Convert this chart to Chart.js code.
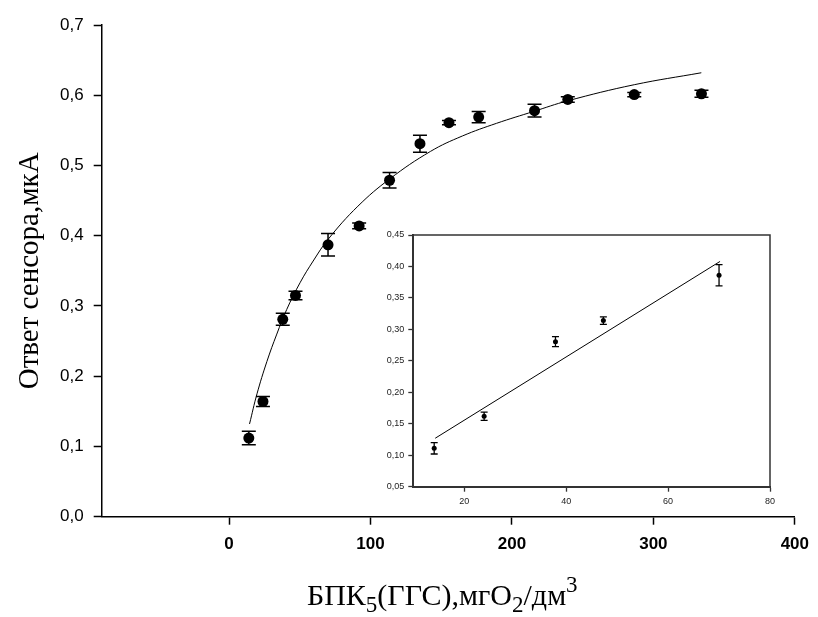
<!DOCTYPE html>
<html>
<head>
<meta charset="utf-8">
<title>Ответ сенсора</title>
<script src="https://cdn.jsdelivr.net/npm/chart.js@4.4.0/dist/chart.umd.min.js"></script>
<style>
    body { margin: 0; background: #fff; }
    #wrap { position: relative; width: 818px; height: 617px; }
    #mainChart { position: absolute; left: 0; top: 0; }
    #insetChart { position: absolute; left: 370px; top: 225px; }
</style>
</head>
<body>
<div id="wrap">
    <canvas id="mainChart" width="818" height="617"></canvas>
    <canvas id="insetChart" width="420" height="290"></canvas>
</div>
<script>
// main plot data (BOD5 vs sensor response)
let bodValues = [14, 24, 38, 47, 70, 92, 113.5, 135, 155.5, 176.5, 216, 239.5, 286.5, 334];
let responseValues = [0.112, 0.164, 0.281, 0.315, 0.387, 0.414, 0.479, 0.531, 0.561, 0.569, 0.578, 0.594, 0.601, 0.602];
let responseErrors = [0.0095, 0.007, 0.0085, 0.006, 0.016, 0.004, 0.011, 0.012, 0.003, 0.008, 0.009, 0.004, 0.003, 0.005];

// fitted curve
let fitX = [14.5, 19.8, 26.8, 33.8, 40.8, 50.2, 59.5, 70.1, 91.1, 113.7, 142.4, 165, 189.1, 215.5, 239.3, 286.5, 333.9];
let fitY = [0.132, 0.175, 0.221, 0.260, 0.295, 0.333, 0.364, 0.395, 0.442, 0.481, 0.520, 0.542, 0.560, 0.577, 0.592, 0.615, 0.632];

// inset (linear part)
let insetX = [14.1, 23.9, 37.9, 47.3, 70.0];
let insetY = [0.111, 0.162, 0.2805, 0.314, 0.386];
let insetErrors = [0.009, 0.0065, 0.008, 0.006, 0.017];
let insetLineX = [14.3, 70.2];
let insetLineY = [0.127, 0.408];

let mainXTicks = [0, 100, 200, 300, 400];
let mainYTicks = [0, 0.1, 0.2, 0.3, 0.4, 0.5, 0.6, 0.7];
let insetXTicks = [20, 40, 60, 80];
let insetYTicks = [0.05, 0.10, 0.15, 0.20, 0.25, 0.30, 0.35, 0.40, 0.45];

function toPoints(xs, ys) {
    let pts = [];
    for (let i = 0; i < xs.length; i++) {
        pts.push({ x: xs[i], y: ys[i] });
    }
    return pts;
}

function comma(v, digits) {
    return v.toFixed(digits).replace('.', ',');
}

// vertical error bars with caps, drawn through the chart scales
const errorBars = {
    id: 'errorBars',
    afterDatasetsDraw(chart, args, opts) {
        const ctx = chart.ctx;
        const xs = chart.scales.x;
        const ys = chart.scales.y;
        ctx.save();
        ctx.strokeStyle = '#000';
        ctx.lineWidth = opts.lineWidth;
        for (let i = 0; i < opts.x.length; i++) {
            let px = xs.getPixelForValue(opts.x[i]);
            let top = ys.getPixelForValue(opts.y[i] + opts.err[i]);
            let bot = ys.getPixelForValue(opts.y[i] - opts.err[i]);
            ctx.beginPath();
            ctx.moveTo(px, top);
            ctx.lineTo(px, bot);
            ctx.moveTo(px - opts.cap, top);
            ctx.lineTo(px + opts.cap, top);
            ctx.moveTo(px - opts.cap, bot);
            ctx.lineTo(px + opts.cap, bot);
            ctx.stroke();
        }
        ctx.restore();
    }
};

// axis titles (x title needs sub/superscripts)
const axisTitles = {
    id: 'axisTitles',
    afterDraw(chart) {
        const ctx = chart.ctx;
        const area = chart.chartArea;
        ctx.save();
        ctx.fillStyle = '#000';
        ctx.textBaseline = 'alphabetic';

        // y title
        ctx.save();
        ctx.translate(38, (area.top + area.bottom) / 2);
        ctx.rotate(-Math.PI / 2);
        ctx.font = '29px "Liberation Serif", "Times New Roman", serif';
        ctx.textAlign = 'center';
        ctx.fillText('Ответ сенсора,мкА', 0, 0);
        ctx.restore();

        // x title
        const big = '30px "Liberation Serif", "Times New Roman", serif';
        const small = '23px "Liberation Serif", "Times New Roman", serif';
        const parts = [
            { t: 'БПК', f: big, dy: 0 },
            { t: '5', f: small, dy: 7 },
            { t: '(ГГС),мгО', f: big, dy: 0 },
            { t: '2', f: small, dy: 7 },
            { t: '/дм', f: big, dy: 0 },
            { t: '3', f: small, dy: -13 }
        ];
        let total = 0;
        parts.forEach(p => { ctx.font = p.f; p.w = ctx.measureText(p.t).width; total += p.w; });
        let x = (area.left + area.right) / 2 - total / 2 - 6;
        let base = 605;
        ctx.textAlign = 'left';
        parts.forEach(p => {
            ctx.font = p.f;
            ctx.fillText(p.t, x, base + p.dy);
            x += p.w;
        });
        ctx.restore();
    }
};

// frame around the inset plot (top and right sides)
const insetFrame = {
    id: 'insetFrame',
    afterDraw(chart) {
        const ctx = chart.ctx;
        const a = chart.chartArea;
        ctx.save();
        ctx.strokeStyle = '#333';
        ctx.lineWidth = 1.5;
        ctx.beginPath();
        ctx.moveTo(a.left, a.top);
        ctx.lineTo(a.right, a.top);
        ctx.lineTo(a.right, a.bottom);
        ctx.stroke();
        ctx.restore();
    }
};

function keepTicks(list) {
    return function (scale) {
        scale.ticks = list.map(v => ({ value: v }));
    };
}

window.addEventListener('load', function () {
    Chart.defaults.font.family = '"Liberation Sans", Arial, sans-serif';
    Chart.defaults.color = '#000';

    const mainCtx = document.getElementById('mainChart').getContext('2d');
    new Chart(mainCtx, {
        type: 'scatter',
        data: {
            datasets: [{
                data: toPoints(fitX, fitY),
                showLine: true,
                borderColor: '#000',
                borderWidth: 1,
                pointRadius: 0,
                tension: 0.4
            }, {
                data: toPoints(bodValues, responseValues),
                backgroundColor: '#000',
                borderColor: '#000',
                pointRadius: 5.5,
                pointBorderWidth: 0
            }]
        },
        options: {
            responsive: false,
            animation: false,
            layout: { padding: { top: 25, right: 17, left: 0, bottom: 0 } },
            plugins: {
                legend: { display: false },
                tooltip: { enabled: false },
                errorBars: { x: bodValues, y: responseValues, err: responseErrors, cap: 7, lineWidth: 1.5 }
            },
            scales: {
                x: {
                    type: 'linear',
                    min: -90,
                    max: 400,
                    afterBuildTicks: keepTicks(mainXTicks),
                    afterFit: function (scale) { scale.height = 100.3; },
                    grid: { drawOnChartArea: false, drawTicks: true, tickLength: 8, tickColor: '#000', tickWidth: 1.5 },
                    border: { display: true, color: '#000', width: 1.5 },
                    ticks: {
                        padding: 9,
                        maxRotation: 0,
                        font: { size: 17, weight: 'bold' },
                        callback: v => String(v)
                    }
                },
                y: {
                    min: 0,
                    max: 0.7,
                    afterBuildTicks: keepTicks(mainYTicks),
                    afterFit: function (scale) { scale.width = 101.7; },
                    grid: { drawOnChartArea: false, drawTicks: true, tickLength: 8, tickColor: '#000', tickWidth: 1.5 },
                    border: { display: true, color: '#000', width: 1.5 },
                    ticks: {
                        padding: 10,
                        font: { size: 17 },
                        callback: v => comma(v, 1)
                    }
                }
            }
        },
        plugins: [errorBars, axisTitles]
    });

    const insetCtx = document.getElementById('insetChart').getContext('2d');
    new Chart(insetCtx, {
        type: 'scatter',
        data: {
            datasets: [{
                data: toPoints(insetLineX, insetLineY),
                showLine: true,
                borderColor: '#000',
                borderWidth: 1,
                pointRadius: 0
            }, {
                data: toPoints(insetX, insetY),
                backgroundColor: '#000',
                pointRadius: 2.5,
                pointBorderWidth: 0
            }]
        },
        options: {
            responsive: false,
            animation: false,
            layout: { padding: { top: 10, right: 20, left: 0, bottom: 0 } },
            plugins: {
                legend: { display: false },
                tooltip: { enabled: false },
                errorBars: { x: insetX, y: insetY, err: insetErrors, cap: 3.5, lineWidth: 1.3 }
            },
            scales: {
                x: {
                    type: 'linear',
                    min: 10,
                    max: 80,
                    afterBuildTicks: keepTicks(insetXTicks),
                    afterFit: function (scale) { scale.height = 28.3; },
                    grid: { drawOnChartArea: false, drawTicks: true, tickLength: 5, tickColor: '#333', tickWidth: 1.3 },
                    border: { display: true, color: '#333', width: 2 },
                    ticks: {
                        padding: 4,
                        maxRotation: 0,
                        color: '#222',
                        font: { size: 9 },
                        callback: v => String(v)
                    }
                },
                y: {
                    min: 0.05,
                    max: 0.45,
                    afterBuildTicks: keepTicks(insetYTicks),
                    afterFit: function (scale) { scale.width = 43.3; },
                    grid: { drawOnChartArea: false, drawTicks: true, tickLength: 5, tickColor: '#333', tickWidth: 1.3 },
                    border: { display: true, color: '#333', width: 2 },
                    ticks: {
                        padding: 4,
                        color: '#222',
                        font: { size: 9 },
                        callback: v => comma(v, 2)
                    }
                }
            }
        },
        plugins: [errorBars, insetFrame]
    });
});
</script>
</body>
</html>
